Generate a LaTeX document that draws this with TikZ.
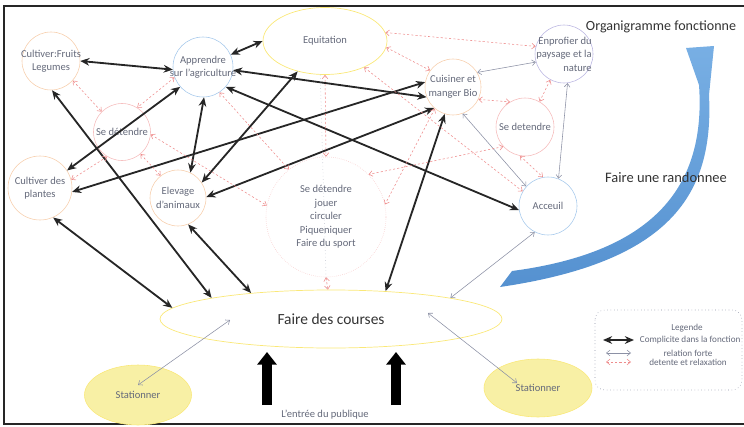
\documentclass[tikz,border=0pt]{standalone}
\usepackage{fontspec}
\setmainfont{Carlito}
\usetikzlibrary{arrows.meta, positioning, calc, shapes.geometric}
\definecolor{orgorange}{RGB}{246,205,170}
\definecolor{orgblue}{RGB}{165,200,235}
\definecolor{orgyellow}{RGB}{250,232,120}
\definecolor{orgred}{RGB}{238,140,140}
\definecolor{orglav}{RGB}{185,180,225}
\definecolor{orgtext}{RGB}{100,105,122}
\definecolor{orggray}{RGB}{140,145,165}
\definecolor{orgskytop}{RGB}{120,175,228}
\definecolor{orgskybot}{RGB}{85,145,208}
\definecolor{orgfill}{RGB}{248,240,165}

\begin{document}
\begin{tikzpicture}[x=0.25mm, y=-0.25mm, >=Stealth,
    circ/.style={circle, draw=#1, line width=0.4pt, minimum size=14.5mm, inner sep=0pt},
    txt/.style={font=\fontsize{7.5}{9.6}\selectfont, text=orgtext, align=center},
    legtxt/.style={font=\fontsize{6.5}{8}\selectfont, text=orgtext},
    compl/.style={{Stealth[length=6.5pt, width=5.5pt]}-{Stealth[length=6.5pt, width=5.5pt]}, line width=1.3pt, black!85},
    forte/.style={{Straight Barb[length=2.5pt, width=4pt]}-{Straight Barb[length=2.5pt, width=4pt]}, line width=0.4pt, orggray},
    detente/.style={{Straight Barb[length=2.5pt, width=4pt]}-{Straight Barb[length=2.5pt, width=4pt]}, line width=0.4pt, orgred, dash pattern=on 1.5pt off 1.5pt},
    entree/.style={-{Triangle[length=9pt, width=13.5pt]}, line width=7pt, black}]

\useasboundingbox (0,0) rectangle (744,427);

% --- Cadre ---
\draw[line width=2pt, black!85] (744,6) -- (4,6) -- (4,424) -- (744,424);

% --- Flèche de randonnée ---
\shade[top color=orgskytop, bottom color=orgskybot] (500,287) .. controls (670,262) and (714,195) .. (709,95)
    -- (714,46) -- (686,48) -- (699,85)
    .. controls (706,185) and (656,252) .. (512,271) -- cycle;

% --- Activités ---
\node[circ=orgorange, label={[txt]center:{Cultiver:Fruits\\Legumes}}] (fruits) at (51,61) {};
\node[circ=orgblue, minimum size=15mm, label={[txt]center:{Apprendre\\sur l'agriculture}}] (apprendre) at (203,67) {};
\node[ellipse, draw=orgyellow, line width=0.5pt, minimum width=31mm, minimum height=16.75mm, inner sep=0pt, txt] (equitation) at (325,41) {Equitation};
\node[circ=orgorange, minimum size=14mm, label={[txt]center:{Cuisiner et\\manger Bio}}] (cuisiner) at (453,87) {};
\node[circ=orglav, label={[txt, align=right]center:{Enprofier du\\paysage et la\\nature}}] (enprofier) at (564,54) {};
\node[circ=orgred!60, label={[txt]center:Se detendre}] (sdR) at (525,127) {};
\node[circ=orgred!60, minimum size=14.25mm, label={[txt]center:Se détendre}] (sdL) at (122,132) {};
\node[circ=orgorange, minimum size=16mm, label={[txt]center:{Cultiver des\\plantes}}] (plantes) at (40,188) {};
\node[circ=orgorange, minimum size=14mm, label={[txt]center:{Elevage\\d'animaux}}] (elevage) at (178,198) {};
\node[circ=orgred!50, densely dotted, minimum size=30mm, label={[txt]center:{Se détendre\\jouer\\circuler\\Piqueniquer\\Faire du sport}}] (big) at (326,217) {};
\node[circ=orgblue, label={[txt]center:Acceuil}] (acceuil) at (548,206) {};

% --- Courses et stationnement ---
\node[ellipse, draw=orgyellow, line width=0.5pt, minimum width=85.5mm, minimum height=14.5mm, inner sep=0pt, font=\fontsize{11}{13}\selectfont, text=black!80] (courses) at (331,319) {Faire des courses};
\node[ellipse, draw=orgyellow, fill=orgfill, minimum width=26.75mm, minimum height=15mm, inner sep=0pt, txt] (statL) at (138,395) {Stationner};
\node[ellipse, draw=orgyellow, fill=orgfill, minimum width=27mm, minimum height=14.5mm, inner sep=0pt, txt] (statR) at (538,388) {Stationner};

% Complicité dans la fonction
\draw[compl] (fruits.east) -- (apprendre.185);
\draw[compl] (apprendre.24) -- (equitation.west);
\draw[compl] (apprendre.-6) -- (cuisiner.201);
\draw[compl] (apprendre.-41) -- (acceuil.188);
\draw[compl] (apprendre.221) -- (plantes.33);
\draw[compl] (apprendre.-88) -- (elevage.64);
\draw[compl] (equitation.228) -- (elevage.33);
\draw[compl] (cuisiner.170) -- (plantes.-7);
\draw[compl] (cuisiner.228) -- (elevage.2);
\draw[compl] (cuisiner.253) -- (courses.27);
\draw[compl] (fruits.272) -- (courses.170);
\draw[compl] (plantes.-66) -- (courses.176);
\draw[compl] (elevage.-69) -- (courses.162);

% Relation forte
\coordinate (crsR) at (428,313);
\coordinate (stR) at (517,383);
\coordinate (crsL) at (230,320);
\coordinate (stL) at (138,385);
\draw[forte] (cuisiner.31) -- (enprofier.196);
\draw[forte] (enprofier.-83) -- (acceuil.69);
\draw[forte] (cuisiner.-70) -- (acceuil.138);
\draw[forte] (acceuil.243) -- (courses.10);
\draw[forte] (crsR) -- (stR);
\draw[forte] (crsL) -- (stL);

% Détente et relaxation
\draw[detente] (fruits.-42) -- (sdL.135);
\draw[detente] (apprendre.200) -- (sdL.58);
\draw[detente] (sdL.239) -- (plantes.15);
\draw[detente] (sdL.-50) -- (elevage.128);
\draw[detente] (sdL.-5) -- (big.169);
\draw[detente] (apprendre.-57) -- (big.128);
\draw[detente] (equitation.south) -- (big.north);
\draw[detente] (equitation.-6) -- (cuisiner.144);
\draw[detente] (equitation.8) -- (enprofier.165);
\draw[detente] (equitation.-34) -- (acceuil.150);
\draw[detente] (cuisiner.230) -- (big.12);
\draw[detente] (sdR.222) -- (big.45);
\draw[detente] (cuisiner.-26) -- (sdR.121);
\draw[detente] (enprofier.242) -- (sdR.60);
\draw[detente] (sdR.-100) -- (acceuil.100);
\draw[detente] (big.south) -- (courses.96);
\draw[dotted, orggray!60] (equitation.262) -- (courses.99);

% --- Entrée du public ---
\coordinate (entA1) at (267,405);
\coordinate (entA2) at (267,352);
\coordinate (entB1) at (396,405);
\coordinate (entB2) at (396,352);
\draw[entree] (entA1) -- (entA2);
\draw[entree] (entB1) -- (entB2);
\node[txt] (entree) at (325,415) {L'entrée du publique};

% --- Textes libres ---
\node[anchor=east, font=\fontsize{10}{12}\selectfont, text=black!80] (titre) at (741,27) {Organigramme fonctionne};
\node[font=\fontsize{10.3}{12}\selectfont, text=black!80] (rando) at (666,178) {Faire une randonnee};

% --- Légende ---
\draw[orggray, dotted, rounded corners=7pt] (595,310) rectangle (742,390);
\node[legtxt] (legtitre) at (687,328) {Legende};
\coordinate (lgA1) at (603,340);
\coordinate (lgA2) at (634,340);
\coordinate (lgB1) at (606,353);
\coordinate (lgB2) at (631,353);
\coordinate (lgC1) at (606,362);
\coordinate (lgC2) at (631,362);
\draw[compl, line width=1.8pt] (lgA1) -- (lgA2);
\draw[forte] (lgB1) -- (lgB2);
\draw[detente] (lgC1) -- (lgC2);
\node[legtxt, anchor=west] (lgcompl) at (635,340) {Complicite dans la fonction};
\node[legtxt] (lgforte) at (688,353) {relation forte};
\node[legtxt] (lgdetente) at (688,362) {detente et relaxation};

\end{tikzpicture}
\end{document}
